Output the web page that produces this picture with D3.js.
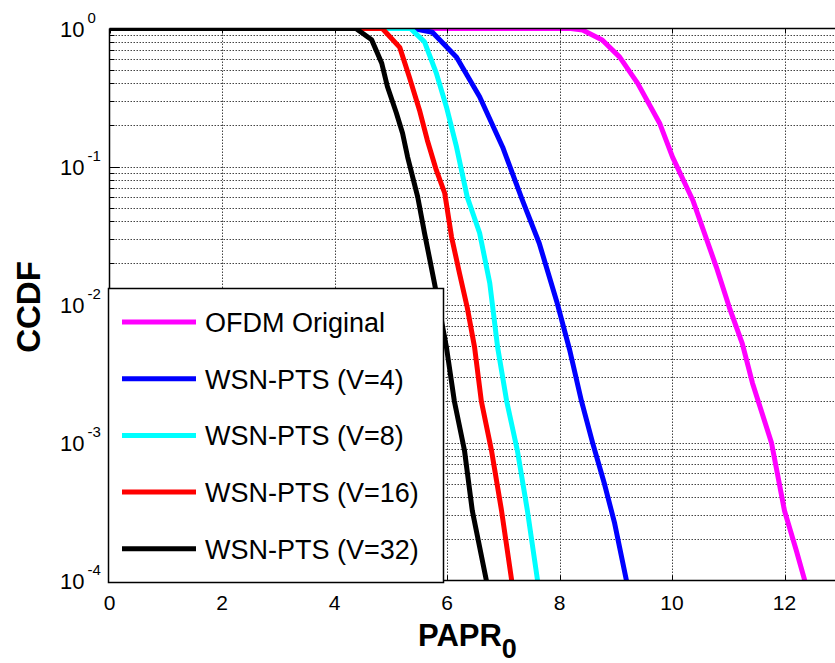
<!DOCTYPE html>
<html>
<head>
<meta charset="utf-8">
<title>CCDF of PAPR</title>
<script src="https://d3js.org/d3.v7.min.js"></script>
<style>
  body { margin: 0; background: #fff; }
  svg { display: block; font-family: "Liberation Sans", Arial, sans-serif; }
  .grid line { stroke: #444; stroke-width: 1; stroke-dasharray: 1.5,1.5; }
</style>
</head>
<body>
<svg id="chart" width="835" height="663"></svg>
<script>
// series data (PAPR0 in dB, CCDF)
var xOrig  = [0, 8.2, 8.41, 8.76, 9.07, 9.39, 9.78, 10.01, 10.37, 10.79, 11.02, 11.25, 11.43, 11.77, 12.0, 12.21, 12.36];
var yOrig  = [1, 1, 0.975, 0.826, 0.62, 0.40, 0.206, 0.117, 0.057, 0.0186, 0.0095, 0.0052, 0.0027, 9.9e-4, 3.2e-4, 1.65e-4, 1e-4];
var xV4    = [0, 5.4, 5.74, 6.17, 6.58, 6.99, 7.34, 7.64, 7.96, 8.18, 8.39, 8.59, 8.80, 8.98, 9.19];
var yV4    = [1, 1, 0.94, 0.62, 0.32, 0.138, 0.057, 0.0278, 0.0102, 0.0047, 0.0020, 9.9e-4, 5.0e-4, 2.6e-4, 1e-4];
var xV8    = [0, 5.35, 5.60, 5.81, 5.99, 6.17, 6.36, 6.58, 6.76, 6.90, 7.06, 7.25, 7.43, 7.61];
var yV8    = [1, 1, 0.80, 0.475, 0.27, 0.138, 0.060, 0.033, 0.0143, 0.0049, 0.0020, 8.8e-4, 3.2e-4, 1e-4];
var xV16   = [0, 4.85, 5.16, 5.33, 5.51, 5.65, 5.81, 5.96, 6.08, 6.22, 6.36, 6.49, 6.61, 6.79, 6.97, 7.15];
var yV16   = [1, 1, 0.73, 0.445, 0.257, 0.155, 0.094, 0.064, 0.031, 0.017, 0.0095, 0.0049, 0.0020, 8.8e-4, 3.2e-4, 1e-4];
var xV32   = [0, 4.38, 4.66, 4.84, 4.94, 5.10, 5.21, 5.30, 5.48, 5.60, 5.78, 5.99, 6.13, 6.31, 6.45, 6.70];
var yV32   = [1, 1, 0.83, 0.56, 0.38, 0.244, 0.174, 0.117, 0.060, 0.033, 0.0141, 0.0049, 0.0020, 8.8e-4, 3.2e-4, 1e-4];

var seriesNames  = ["OFDM Original", "WSN-PTS (V=4)", "WSN-PTS (V=8)", "WSN-PTS (V=16)", "WSN-PTS (V=32)"];
var seriesColors = ["#ff00ff", "#0000ff", "#00ffff", "#ff0000", "#000000"];
var seriesX = [xOrig, xV4, xV8, xV16, xV32];
var seriesY = [yOrig, yV4, yV8, yV16, yV32];

var xTicks = [0, 2, 4, 6, 8, 10, 12];
var yExponents = [0, -1, -2, -3, -4];

var svg = d3.select("#chart");
var plotLeft = 109.5, plotTop = 28.5, plotBottom = 580.5;

var x = d3.scaleLinear().domain([0, 13]).range([plotLeft, plotLeft + 13 * 56.25]);
var y = d3.scaleLog().domain([1e-4, 1]).range([plotBottom, plotTop]);

svg.append("clipPath").attr("id", "plotclip")
  .append("rect")
  .attr("x", plotLeft).attr("y", plotTop)
  .attr("width", x(13) - plotLeft).attr("height", plotBottom - plotTop);

// minor log values for gridlines
var logVals = [];
yExponents.forEach(function(e) {
  if (e === -4) return;
  for (var m = 1; m <= 9; m++) logVals.push(m * Math.pow(10, e - 1));
});

var grid = svg.append("g").attr("class", "grid");
grid.selectAll(".hg").data(logVals.filter(function(v) { return v > 1e-4 && v < 1; }))
  .enter().append("line")
  .attr("x1", plotLeft).attr("x2", x(13))
  .attr("y1", function(d) { return Math.round(y(d)) + 0.5; })
  .attr("y2", function(d) { return Math.round(y(d)) + 0.5; });
grid.selectAll(".vg").data(xTicks.filter(function(d) { return d > 0; }))
  .enter().append("line")
  .attr("y1", plotTop).attr("y2", plotBottom)
  .attr("x1", function(d) { return Math.round(x(d)) + 0.5; })
  .attr("x2", function(d) { return Math.round(x(d)) + 0.5; });

// curves
var line = d3.line()
  .x(function(d) { return x(d[0]); })
  .y(function(d) { return y(d[1]); });

var plot = svg.append("g").attr("clip-path", "url(#plotclip)");
seriesX.forEach(function(xs, i) {
  var pts = xs.map(function(v, j) { return [v, seriesY[i][j]]; });
  plot.append("path")
    .datum(pts)
    .attr("d", line)
    .attr("fill", "none")
    .attr("stroke", seriesColors[i])
    .attr("stroke-width", 5)
    .attr("stroke-linejoin", "round");
});

// axes lines
var axes = svg.append("g").attr("stroke", "#000").attr("fill", "none");
axes.append("line").attr("x1", plotLeft).attr("x2", 835).attr("y1", plotTop).attr("y2", plotTop).attr("stroke-width", 1.5);
axes.append("line").attr("x1", plotLeft).attr("x2", 835).attr("y1", plotBottom).attr("y2", plotBottom).attr("stroke-width", 1.5);
axes.append("line").attr("x1", plotLeft).attr("x2", plotLeft).attr("y1", plotTop).attr("y2", plotBottom).attr("stroke-width", 1.5);

// x ticks on top and bottom
xTicks.forEach(function(t) {
  var px = Math.round(x(t)) + 0.5;
  axes.append("line").attr("x1", px).attr("x2", px).attr("y1", plotTop).attr("y2", plotTop + 5);
  axes.append("line").attr("x1", px).attr("x2", px).attr("y1", plotBottom).attr("y2", plotBottom - 5);
});
// y ticks (minor and major)
logVals.concat([1]).forEach(function(v) {
  var py = Math.round(y(v)) + 0.5;
  var major = Math.abs(Math.log10(v) - Math.round(Math.log10(v))) < 1e-9;
  axes.append("line").attr("x1", plotLeft).attr("x2", plotLeft + (major ? 10 : 5)).attr("y1", py).attr("y2", py);
});

// x tick labels
svg.append("g").selectAll("text").data(xTicks).enter().append("text")
  .attr("x", function(d) { return x(d); })
  .attr("y", 610)
  .attr("text-anchor", "middle")
  .attr("font-size", 21)
  .text(function(d) { return d; });

// y tick labels 10^n
var yl = svg.append("g").selectAll("text").data(yExponents).enter().append("text")
  .attr("x", 60)
  .attr("y", function(d) { return y(Math.pow(10, d)) + 8; })
  .attr("font-size", 22);
yl.append("tspan").text("10");
yl.append("tspan")
  .attr("dx", 3)
  .attr("dy", -14)
  .attr("font-size", 15)
  .text(function(d) { return d === 0 ? "0" : "-" + Math.abs(d); });

// axis labels
svg.append("text")
  .attr("transform", "translate(40,307) rotate(-90)")
  .attr("text-anchor", "middle")
  .attr("font-size", 33)
  .attr("font-weight", "bold")
  .text("CCDF");

var xl = svg.append("text")
  .attr("x", 418)
  .attr("y", 646)
  .attr("font-size", 31)
  .attr("font-weight", "bold");
xl.append("tspan").text("PAPR");
xl.append("tspan").attr("dy", 12).attr("font-size", 27).text("0");

// legend
var lg = svg.append("g");
lg.append("rect")
  .attr("x", 108.5).attr("y", 288.5)
  .attr("width", 335).attr("height", 294)
  .attr("fill", "#fff").attr("stroke", "#000").attr("stroke-width", 1.5);
seriesNames.forEach(function(name, i) {
  var ly = 322 + i * 56.7;
  lg.append("line")
    .attr("x1", 122).attr("x2", 196)
    .attr("y1", ly).attr("y2", ly)
    .attr("stroke", seriesColors[i]).attr("stroke-width", 5);
  lg.append("text")
    .attr("x", 205).attr("y", ly + 10)
    .attr("font-size", 27)
    .text(name);
});
</script>
</body>
</html>
